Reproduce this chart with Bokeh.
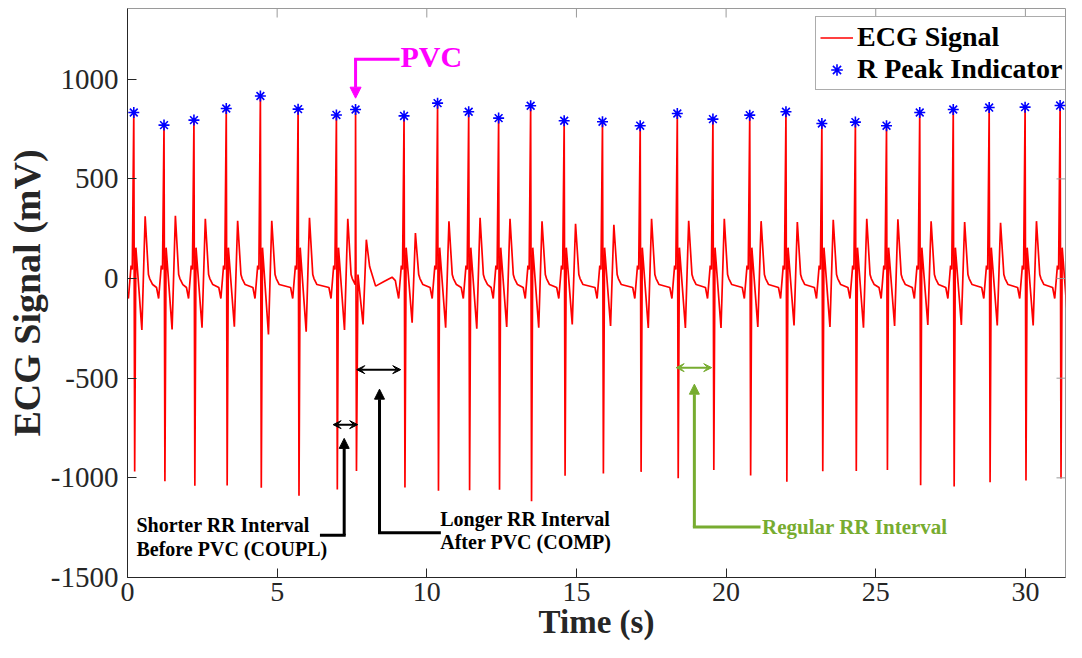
from bokeh.plotting import figure
from bokeh.models import (Range1d, FixedTicker, Legend, LegendItem,
                          Arrow, NormalHead, VeeHead, Label)
from bokeh.embed import file_html
from bokeh.resources import INLINE

# ---------------- data ----------------
# R-peak times (s) and amplitudes (mV)
r_time = [0.21, 1.22, 2.22, 3.30, 4.44, 5.70, 6.98, 7.62, 9.24, 10.36, 11.40, 12.40,
          13.47, 14.59, 15.87, 17.13, 18.37, 19.56, 20.79, 22.00, 23.20, 24.32,
          25.36, 26.47, 27.59, 28.79, 29.99, 31.16]
r_amp = [833, 770, 795, 853, 916, 850, 821, 848, 816, 880, 837, 805, 867, 792, 787,
         767, 828, 800, 820, 837, 778, 785, 767, 833, 848, 858, 860, 868]
# S-wave trough right after each R peak (mV)
s_amp = [-968, -1017, -1040, -1038, -1050, -1090, -1058, -965, -1048, -1065, -1062,
         -1060, -1117, -990, -978, -970, -1002, -960, -988, -1020, -967, -965, -960,
         -1037, -1043, -1022, -1013, -1003]
# negative dip before the T wave (mV)
st_dip = [-258, -255, -247, -242, -280, -267, -258, -230, -222, -247, -252, -243,
          -247, -230, -238, -248, -248, -248, -243, -235, -243, -247, -238, -233,
          -233, -235, -235, -240]
# T-wave peak (mV)
t_amp = [312, 315, 300, 290, 290, 305, 300, 195, 228, 287, 305, 300, 287, 275, 270,
         300, 290, 300, 288, 283, 295, 300, 297, 287, 283, 280, 288, 290]
pvc_index = 7

# beat outlines: (time offset from R peak in s, level in mV or feature name)
normal_beat = [(-0.25, -45), (-0.18, -100), (-0.09, 65), (-0.05, 45), (0.0, "R"),
               (0.03, "S"), (0.07, 155), (0.27, "D"), (0.38, "T"), (0.49, 20),
               (0.53, 0), (0.63, -30)]
pvc_beat = [(0.0, "R"), (0.03, "S"), (0.08, 20), (0.25, "D"), (0.36, "T"),
            (0.47, 60), (0.67, -38), (0.95, -15), (1.22, 7), (1.33, -10)]

x_ticks = [0, 5, 10, 15, 20, 25, 30]
y_ticks = [-1500, -1000, -500, 0, 500, 1000]

# ---------------- build ECG trace from the beat features ----------------
ecg_t, ecg_v = [], []
n = len(r_time)
for i, t0 in enumerate(r_time):
    shape = pvc_beat if i == pvc_index else normal_beat
    feats = {"R": r_amp[i], "S": s_amp[i], "D": st_dip[i], "T": t_amp[i]}
    if i + 1 < n:
        nxt = pvc_beat if i + 1 == pvc_index else normal_beat
        limit = r_time[i + 1] + nxt[0][0]
    else:
        limit = 1e9
    for dt, v in shape:
        t = t0 + dt
        if t >= limit:
            break
        ecg_t.append(round(t, 3))
        ecg_v.append(feats[v] if isinstance(v, str) else v)

# ---------------- figure ----------------
FONT = "Liberation Serif"
AX = "#262626"
X0, X1 = 0, 31.34
Y0, Y1 = -1500, 1355

p = figure(width=1066, height=642, output_backend="svg", toolbar_location=None,
           x_range=Range1d(X0, X1), y_range=Range1d(Y0, Y1),
           min_border_left=127, min_border_right=1, min_border_top=8,
           min_border_bottom=0)
p.grid.visible = False
p.outline_line_color = "#9a9a9a"
p.outline_line_width = 1
p.background_fill_color = "white"

ecg_r = p.line(ecg_t, ecg_v, line_color="#FF0000", line_width=1.7)
pk_r = p.scatter(r_time, r_amp, marker="asterisk", size=11, line_color="#0000FF",
                 line_width=1.6)

for ax, ticks in ((p.xaxis[0], x_ticks), (p.yaxis[0], y_ticks)):
    ax.ticker = FixedTicker(ticks=ticks)
    ax.major_label_overrides = {t: str(t) for t in ticks}
    ax.minor_tick_line_color = None
    ax.major_tick_in = 9
    ax.major_tick_out = 0
    ax.axis_line_color = AX
    ax.major_tick_line_color = AX
    ax.major_label_text_font = FONT
    ax.major_label_text_font_size = "29px"
    ax.major_label_text_color = AX
    ax.axis_label_text_font = FONT
    ax.axis_label_text_font_style = "bold"
    ax.axis_label_text_color = AX

p.xaxis.axis_label = "Time (s)"
p.xaxis.axis_label_text_font_size = "33px"
p.xaxis.major_label_text_font_size = "28px"
p.xaxis.major_label_standoff = 5
p.xaxis.axis_label_standoff = 0
p.yaxis.axis_label = "ECG Signal (mV)"
p.yaxis.axis_label_text_font_size = "38px"
p.yaxis.major_label_standoff = 9
p.yaxis.axis_label_standoff = 0

# tick marks on the top and right edges of the box (about 9 px long)
dx_tick = 9 * (X1 - X0) / 938
dy_tick = 9 * (Y1 - Y0) / 569
for t in x_ticks[1:]:
    p.add_layout(Arrow(end=None, x_start=t, y_start=Y1, x_end=t, y_end=Y1 - dy_tick,
                       line_color="#9a9a9a", line_width=1))
for t in y_ticks[1:]:
    p.add_layout(Arrow(end=None, x_start=X1, y_start=t, x_end=X1 - dx_tick, y_end=t,
                       line_color="#9a9a9a", line_width=1))

# legend flush with the right edge of the box, about 9 px below its top
legend = Legend(items=[LegendItem(label="ECG Signal", renderers=[ecg_r]),
                       LegendItem(label="R Peak Indicator", renderers=[pk_r])],
                location=(688, 487), margin=0, padding=4, spacing=0,
                label_height=29, glyph_height=29, glyph_width=33, label_standoff=4,
                label_text_font=FONT, label_text_font_style="bold",
                label_text_font_size="28px", label_text_color="black",
                border_line_color="#5a5a5a", border_line_width=1,
                background_fill_color="white", background_fill_alpha=1)
p.add_layout(legend)

# ---------------- annotations ----------------
MAG = "#FF00FF"
GRN = "#77AC30"
pvc_t = r_time[pvc_index]

# PVC pointer
p.add_layout(Arrow(end=None, x_start=pvc_t + 1.42, y_start=1100, x_end=pvc_t,
                   y_end=1100, line_color=MAG, line_width=3, line_cap="square"))
p.add_layout(Arrow(end=NormalHead(size=11, fill_color=MAG, line_color=MAG),
                   x_start=pvc_t, y_start=1100, x_end=pvc_t, y_end=905,
                   line_color=MAG, line_width=3))
p.add_layout(Label(x=pvc_t + 1.5, y=1112, text="PVC", text_font=FONT,
                   text_font_style="bold", text_font_size="30px", text_color=MAG,
                   text_align="left", text_baseline="middle"))

def double_arrow(x0, x1, y, color):
    p.add_layout(Arrow(start=VeeHead(size=8, fill_color=color, line_color=color),
                       end=VeeHead(size=8, fill_color=color, line_color=color),
                       x_start=x0, y_start=y, x_end=x1, y_end=y,
                       line_color=color, line_width=2))

def pointer(x, y_tip, y_base, x_elbow, color, width):
    p.add_layout(Arrow(end=None, x_start=x_elbow, y_start=y_base, x_end=x,
                       y_end=y_base, line_color=color, line_width=width,
                       line_cap="square"))
    p.add_layout(Arrow(end=NormalHead(size=10, fill_color=color, line_color=color),
                       x_start=x, y_start=y_base, x_end=x, y_end=y_tip,
                       line_color=color, line_width=width))

# shorter RR interval before PVC
double_arrow(r_time[pvc_index - 1] - 0.11, pvc_t + 0.07, -733, "black")
pointer(7.24, -802, -1288, 6.48, "black", 3)
for txt, yy in (("Shorter RR Interval", -1238), ("Before PVC (COUPL)", -1358)):
    p.add_layout(Label(x=0.30, y=yy, text=txt, text_font=FONT, text_font_style="bold",
                       text_font_size="20px", text_color="black", text_align="left",
                       text_baseline="middle"))

# longer RR interval after PVC
double_arrow(pvc_t + 0.04, r_time[pvc_index + 1] - 0.11, -457, "black")
pointer(8.42, -555, -1275, 10.42, "black", 3)
for txt, yy in (("Longer RR Interval", -1205), ("After PVC (COMP)", -1322)):
    p.add_layout(Label(x=10.45, y=yy, text=txt, text_font=FONT, text_font_style="bold",
                       text_font_size="20px", text_color="black", text_align="left",
                       text_baseline="middle"))

# regular RR interval
double_arrow(r_time[16] - 0.04, r_time[17] - 0.04, -447, GRN)
pointer(18.94, -530, -1247, 21.1, GRN, 3)
p.add_layout(Label(x=21.2, y=-1247, text="Regular RR Interval", text_font=FONT,
                   text_font_style="bold", text_font_size="21px", text_color=GRN,
                   text_align="left", text_baseline="middle"))

open("out.html", "w").write(file_html(p, INLINE))
